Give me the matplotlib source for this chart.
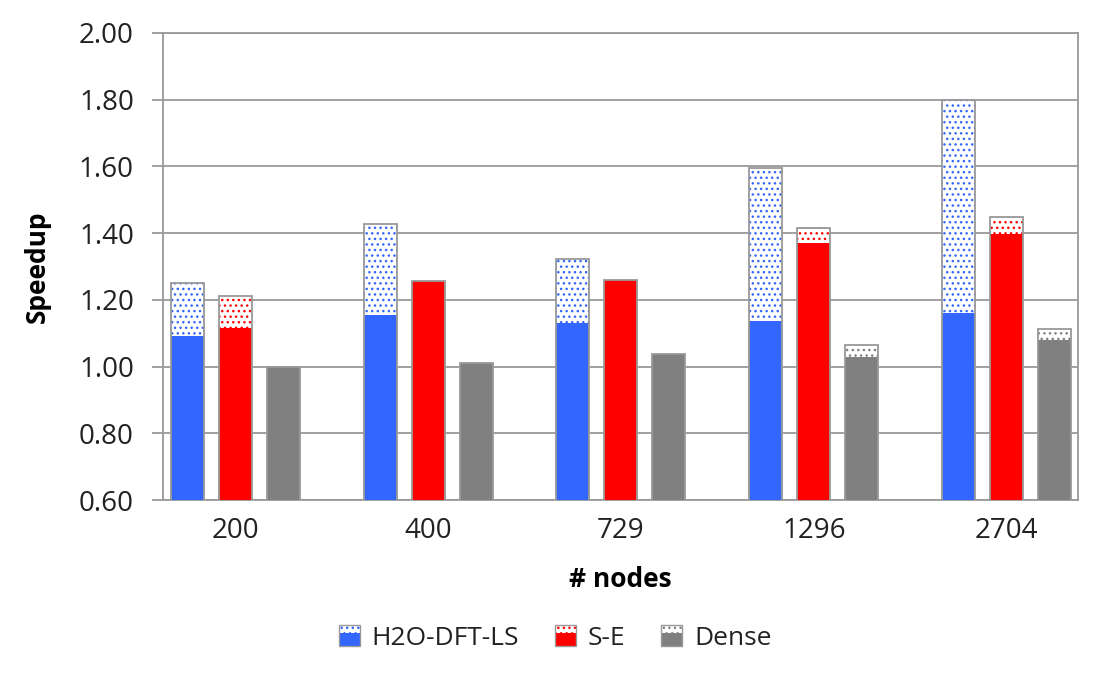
import matplotlib.pyplot as plt
import numpy as np
from matplotlib.patches import Rectangle
from matplotlib.legend_handler import HandlerBase

plt.rcParams['font.family'] = ['Open Sans', 'DejaVu Sans']
plt.rcParams['hatch.linewidth'] = 1.0

# data
nodes = ['200', '400', '729', '1296', '2704']
h2o_base = [1.092, 1.153, 1.130, 1.135, 1.161]
h2o_total = [1.250, 1.427, 1.321, 1.596, 1.800]
se_base = [1.116, 1.256, 1.260, 1.371, 1.396]
se_total = [1.212, 1.256, 1.260, 1.414, 1.448]
dense_base = [1.000, 1.010, 1.039, 1.028, 1.080]
dense_total = [1.000, 1.010, 1.039, 1.064, 1.111]

series = [
    ('H2O-DFT-LS', '#3366ff', h2o_base, h2o_total),
    ('S-E', '#ff0000', se_base, se_total),
    ('Dense', '#808080', dense_base, dense_total),
]
edge = '#999999'


class StackHandler(HandlerBase):
    def __init__(self, color):
        super().__init__()
        self.color = color

    def create_artists(self, legend, orig_handle, xdescent, ydescent,
                       width, height, fontsize, trans):
        w = height * 1.15
        h = height * 1.1
        x0 = (width - w) / 2 - xdescent
        y0 = -ydescent - height * 0.05
        top = Rectangle((x0, y0 + h * 0.6), w, h * 0.4,
                        facecolor='white', edgecolor=self.color,
                        hatch='...', linewidth=0, transform=trans)
        bot = Rectangle((x0, y0), w, h * 0.6, facecolor=self.color,
                        edgecolor='none', transform=trans)
        frame = Rectangle((x0, y0), w, h, fill=False, edgecolor=edge,
                          linewidth=1.0, transform=trans)
        return [top, bot, frame]


fig = plt.figure(figsize=(11.09, 6.84), dpi=100)
ax = fig.add_axes([0.147, 0.269, 0.825, 0.683])

x = np.arange(len(nodes))
width = 0.171
step = 0.249
handles = []
handler_map = {}
for i, (name, color, base, total) in enumerate(series):
    pos = x + (i - 1) * step
    base = np.array(base)
    total = np.array(total)
    ax.bar(pos, total - base, width, bottom=base, color='white',
           edgecolor=color, hatch='...', linewidth=0, zorder=3)
    ax.bar(pos, base, width, color=color, linewidth=0, zorder=3)
    ax.bar(pos, total, width, fill=False, edgecolor=edge, linewidth=1.3,
           zorder=4)
    h = Rectangle((0, 0), 1, 1, label=name)
    handles.append(h)
    handler_map[h] = StackHandler(color)

ax.set_ylim(0.6, 2.0)
ax.set_xlim(-0.375, 4.37)
ax.set_yticks(np.arange(0.6, 2.01, 0.2))
ax.set_yticklabels(['%.2f' % v for v in np.arange(0.6, 2.01, 0.2)])
ax.set_xticks(x)
ax.set_xticklabels(nodes)
ax.yaxis.grid(True, color='#999999', linewidth=1.3, zorder=0)
ax.set_axisbelow(True)
for s in ax.spines.values():
    s.set_color('#999999')
    s.set_linewidth(1.3)
ax.tick_params(axis='y', length=8, width=1.3, color='#999999',
               labelsize=20, pad=13, labelcolor='#222222')
ax.tick_params(axis='x', length=0, labelsize=20, pad=12, labelcolor='#222222')

ax.set_xlabel('# nodes', fontsize=19, fontweight='bold', labelpad=15)
ax.set_ylabel('Speedup', fontsize=19, fontweight='bold', labelpad=20)

fig.legend(handles=handles, handler_map=handler_map, loc='center',
           bbox_to_anchor=(0.5, 0.067), ncol=3, frameon=False, fontsize=19,
           handlelength=0.9, handletextpad=0.4, columnspacing=1.3,
           labelcolor='#222222')

fig.savefig('out.png', dpi=100)
